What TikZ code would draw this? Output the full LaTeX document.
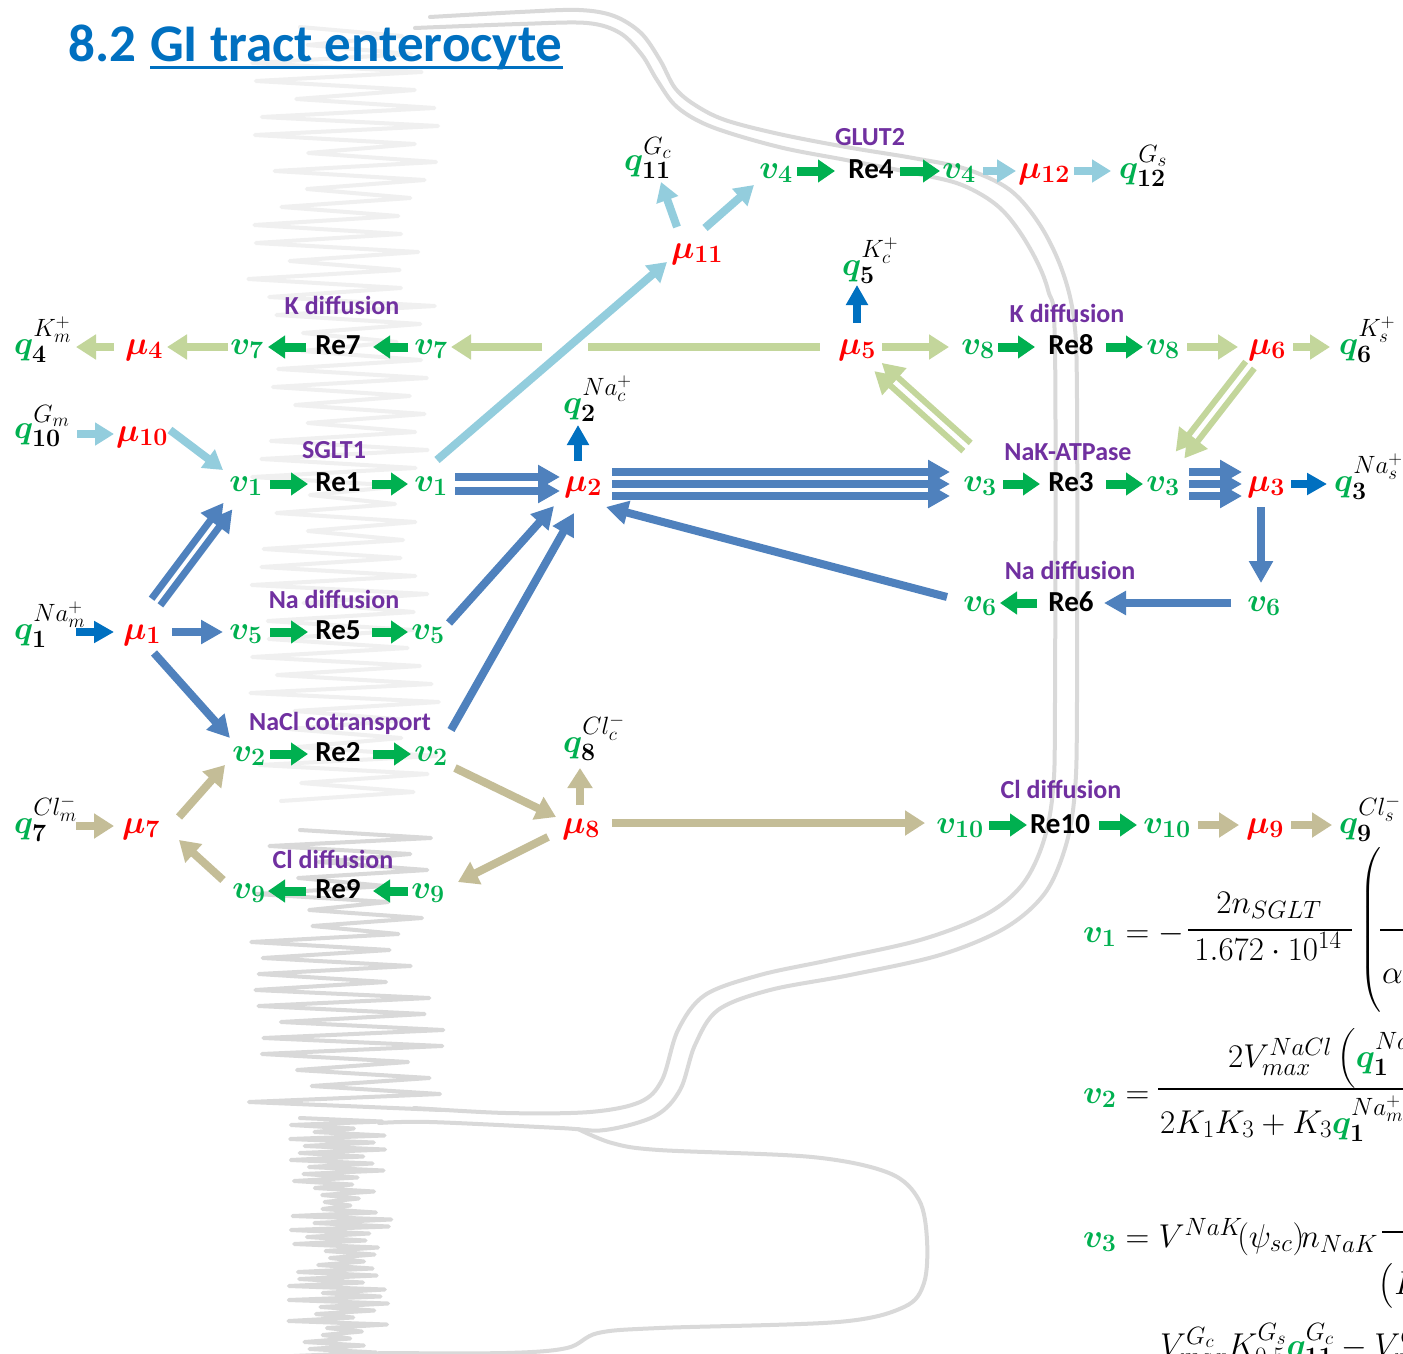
\RequirePackage{fix-cm}
\documentclass[tikz,border=0pt]{standalone}
\usepackage{amsmath}
\usepackage{bm}
\usepackage{fontspec}
\newfontfamily\calib{Carlito}
\usetikzlibrary{arrows.meta}
\DeclareMathSizes{33}{33}{25}{19}
\definecolor{cgreen}{HTML}{00B050}
\definecolor{cred}{HTML}{FF0000}
\definecolor{cpurple}{HTML}{7030A0}
\definecolor{ctitle}{HTML}{0070C0}
\definecolor{clb}{HTML}{93CDDD}
\definecolor{clg}{HTML}{C3D69B}
\definecolor{ctan}{HTML}{C4BD97}
\definecolor{csteel}{HTML}{4F81BD}
\definecolor{cdblue}{HTML}{0070C0}
\definecolor{cmem}{HTML}{D9D9D9}
\definecolor{clight}{HTML}{F0F0F0}
\newcommand{\Qn}[2]{{\color{cgreen}\bm{q}_{\bm{#1}}^{\color{black}#2}}}
\newcommand{\Vn}[1]{{\color{cgreen}\bm{v}_{\bm{#1}}}}
\newcommand{\Mn}[1]{{\color{cred}\bm{\mu}_{\bm{#1}}}}
\begin{document}
\begin{tikzpicture}[x=1pt,y=-1pt,
  mth/.style={font=\fontsize{33}{40}\selectfont, inner sep=1pt, anchor=base},
  re/.style={font=\calib\bfseries\fontsize{29}{34}\selectfont, inner sep=1pt, anchor=base},
  lab/.style={font=\calib\bfseries\fontsize{26}{30}\selectfont, text=cpurple, inner sep=1pt, anchor=base},
  eq/.style={font=\fontsize{33}{40}\selectfont, inner sep=0pt, anchor=base west},
  mem/.style={draw=cmem, line width=4pt, line cap=round, line join=round},
  ga/.style={draw=cgreen, line width=9pt, -{Triangle[length=17pt,width=22pt]}},
  lba/.style={draw=clb, line width=8pt, -{Triangle[length=19pt,width=22pt]}},
  lga/.style={draw=clg, line width=8pt, -{Triangle[length=20pt,width=24pt]}},
  lga2/.style={draw=clg, line width=6pt, -{Triangle[length=22pt,width=24pt]}},
  tna/.style={draw=ctan, line width=8pt, -{Triangle[length=20pt,width=24pt]}},
  sba/.style={draw=csteel, line width=8pt, -{Triangle[length=22pt,width=23pt]}},
  sba2/.style={draw=csteel, line width=7pt, -{Triangle[length=22pt,width=23pt]}},
  dba/.style={draw=cdblue, line width=8pt, -{Triangle[length=20pt,width=21pt]}}]
\useasboundingbox (0,0) rectangle (1403,1354);
\clip (0,0) rectangle (1403,1354);
\fill[white] (0,0) rectangle (1403,1354);

% ---------- microvilli ----------
\pgfmathsetseed{7}
\draw[draw=clight, line width=4pt, line join=round, line cap=round] (300,27)
  \foreach \k in {1,...,86} { -- ({ifthenelse(isodd(\k), 395+45*rnd, 245+65*rnd)}, {27+9*\k}) };
\draw[draw=cmem, line width=4pt, line join=round, line cap=round] (300,830)
  \foreach \k in {1,...,35} { -- ({ifthenelse(isodd(\k), 379+70*rnd, 246+76*rnd)}, {830+8*\k}) };
\draw[draw=cmem, line width=4pt, line join=round, line cap=round] (300,1118)
  \foreach \k in {1,...,68} { -- ({ifthenelse(isodd(\k), 350+44*rnd, 288+42*rnd)}, {1118+3.5*\k}) };

% ---------- membranes ----------
\draw[mem] plot[smooth, tension=0.55] coordinates {(430,17) (520,12) (579,10) (614,16) (641,33) (660,60) (675,88) (695,105) (725,120) (779,134) (846,147) (913,158) (966,169) (1010,190) (1040,225) (1062,270) (1074,320) (1077,400) (1077,700) (1075,790) (1066,845) (1045,893) (1005,928) (940,955) (850,975) (770,990) (718,1010) (695,1045) (680,1090) (655,1116) (605,1130) (560,1128) (430,1122) (379,1123)};
\draw[mem] plot[smooth, tension=0.55] coordinates {(415,28) (520,24) (587,23) (620,33) (642,55) (657,80) (677,107) (712,127) (779,147) (846,160) (913,173) (962,185) (1000,208) (1028,245) (1048,290) (1055,350) (1055,700) (1053,790) (1043,843) (1022,885) (985,915) (920,940) (830,960) (760,975) (705,995) (678,1030) (662,1080) (640,1102) (590,1112) (506,1113) (414,1108)};
\draw[mem] plot[smooth, tension=0.55] coordinates {(578,1129) (612,1143) (659,1150) (812,1157) (889,1173) (919,1200) (927,1240) (924,1283) (904,1307) (838,1322) (659,1328) (598,1333) (567,1348) (506,1353) (379,1353)};

% ---------- title ----------
\node[anchor=base west, font=\calib\bfseries\fontsize{53}{60}\selectfont, text=ctitle, inner sep=0pt] (t1) at (68,62) {8.2};
\node[anchor=base west, font=\calib\bfseries\fontsize{53}{60}\selectfont, text=ctitle, inner sep=0pt] (t2) at (150,62) {GI tract enterocyte};
\draw[ctitle, line width=3pt] ([yshift=-6pt]t2.base west) -- ([yshift=-6pt]t2.base east);

% ---------- nodes ----------
% GLUT2 row
\node[mth, anchor=base west] (q11) at (623,170) {$\Qn{11}{G_c}$};
\node[mth] (v4l) at (776,178) {$\Vn{4}$};
\node[re] (re4) at (871,178) {Re4};
\node[lab] (l4) at (870,145) {GLUT2};
\node[mth] (v4r) at (959,178) {$\Vn{4}$};
\node[mth] (mu12) at (1044,178) {$\Mn{12}$};
\node[mth, anchor=base west] (q12) at (1118,178) {$\Qn{12}{G_s}$};
\node[mth] (mu11) at (697,258) {$\Mn{11}$};
% K row
\node[mth, anchor=base west] (q4) at (13,354) {$\Qn{4}{K_m^+}$};
\node[mth] (mu4) at (144,354) {$\Mn{4}$};
\node[mth] (v7l) at (247,354) {$\Vn{7}$};
\node[re] (re7) at (338,354) {Re7};
\node[lab] (l7) at (342,314) {K diffusion};
\node[mth] (v7r) at (431,354) {$\Vn{7}$};
\node[mth] (mu5) at (857,354) {$\Mn{5}$};
\node[mth, anchor=base west] (q5) at (841,275) {$\Qn{5}{K_c^+}$};
\node[mth] (v8l) at (978,354) {$\Vn{8}$};
\node[re] (re8) at (1071,354) {Re8};
\node[lab] (l8) at (1067,322) {K diffusion};
\node[mth] (v8r) at (1163,354) {$\Vn{8}$};
\node[mth] (mu6) at (1267,354) {$\Mn{6}$};
\node[mth, anchor=base west] (q6) at (1338,354) {$\Qn{6}{K_s^+}$};
% q10 row
\node[mth, anchor=base west] (q10) at (13,438) {$\Qn{10}{G_m}$};
\node[mth] (mu10) at (142,441) {$\Mn{10}$};
% SGLT1 row
\node[lab] (l1) at (334,458) {SGLT1};
\node[mth] (v1l) at (246,491) {$\Vn{1}$};
\node[re] (re1) at (338,491) {Re1};
\node[mth] (v1r) at (431,491) {$\Vn{1}$};
\node[mth] (mu2) at (583,491) {$\Mn{2}$};
\node[mth, anchor=base west] (q2) at (562,413) {$\Qn{2}{Na_c^+}$};
\node[mth] (v3l) at (980,491) {$\Vn{3}$};
\node[re] (re3) at (1071,491) {Re3};
\node[lab] (l3) at (1068,460) {NaK-ATPase};
\node[mth] (v3r) at (1163,491) {$\Vn{3}$};
\node[mth] (mu3) at (1266,491) {$\Mn{3}$};
\node[mth, anchor=base west] (q3) at (1333,491) {$\Qn{3}{Na_s^+}$};
% Re6 row
\node[lab] (l6) at (1070,579) {Na diffusion};
\node[mth] (v6l) at (980,611) {$\Vn{6}$};
\node[re] (re6) at (1071,611) {Re6};
\node[mth] (v6r) at (1264,611) {$\Vn{6}$};
% Re5 row
\node[mth, anchor=base west] (q1) at (13,639) {$\Qn{1}{Na_m^+}$};
\node[mth] (mu1) at (142,639) {$\Mn{1}$};
\node[mth] (v5l) at (246,639) {$\Vn{5}$};
\node[re] (re5) at (338,639) {Re5};
\node[lab] (l5) at (334,608) {Na diffusion};
\node[mth] (v5r) at (428,639) {$\Vn{5}$};
% Re2 row
\node[lab] (l2) at (340,730) {NaCl cotransport};
\node[mth] (v2l) at (249,761) {$\Vn{2}$};
\node[re] (re2) at (338,761) {Re2};
\node[mth] (v2r) at (431,761) {$\Vn{2}$};
\node[mth, anchor=base west] (q8) at (562,752) {$\Qn{8}{Cl_c^-}$};
% row 833
\node[mth, anchor=base west] (q7) at (13,833) {$\Qn{7}{Cl_m^-}$};
\node[mth] (mu7) at (141,833) {$\Mn{7}$};
\node[mth] (mu8) at (581,833) {$\Mn{8}$};
\node[mth] (v10l) at (960,833) {$\Vn{10}$};
\node[re] (re10) at (1060,833) {Re10};
\node[lab] (l10) at (1061,798) {Cl diffusion};
\node[mth] (v10r) at (1167,833) {$\Vn{10}$};
\node[mth] (mu9) at (1265,833) {$\Mn{9}$};
\node[mth, anchor=base west] (q9) at (1338,833) {$\Qn{9}{Cl_s^-}$};
% row 898
\node[lab] (l9) at (333,868) {Cl diffusion};
\node[mth] (v9l) at (249,898) {$\Vn{9}$};
\node[re] (re9) at (338,898) {Re9};
\node[mth] (v9r) at (428,898) {$\Vn{9}$};

% ---------- connectors ----------
% GLUT2 row
\draw[ga] ([shift={(21,-7)}]v4l.base) -- ([shift={(-36,-7)}]re4.base);
\draw[ga] ([shift={(29,-7)}]re4.base) -- ([shift={(-19,-7)}]v4r.base);
\draw[lba] ([shift={(24,-7)}]v4r.base) -- ([shift={(-28,-7)}]mu12.base);
\draw[lba] ([shift={(30,-7)}]mu12.base) -- ([shift={(-7,-7)}]q12.base west);
\draw[lba] ([shift={(-20,-31)}]mu11.base) -- ([shift={(38,12)}]q11.base west);
\draw[lba] ([shift={(8,-30)}]mu11.base) -- ([shift={(-22,7)}]v4l.base);
% K row
\draw[lga] ([shift={(-30,-7)}]mu4.base) -- ([shift={(63,-7)}]q4.base west);
\draw[lga] ([shift={(-19,-7)}]v7l.base) -- ([shift={(23,-7)}]mu4.base);
\draw[ga] ([shift={(-32,-7)}]re7.base) -- ([shift={(21,-7)}]v7l.base);
\draw[ga] ([shift={(-23,-7)}]v7r.base) -- ([shift={(35,-7)}]re7.base);
\coordinate (gapR) at (588,347);
\coordinate (gapL) at (542,347);
\draw[lga,-] ([shift={(-37,-7)}]mu5.base) -- (gapR);
\draw[lga] (gapL) -- ([shift={(20,-7)}]v7r.base);
\draw[dba] ([shift={(0,-31)}]mu5.base) -- ([shift={(16,10)}]q5.base west);
\draw[lga] ([shift={(25,-7)}]mu5.base) -- ([shift={(-29,-7)}]v8l.base);
\draw[ga] ([shift={(20,-7)}]v8l.base) -- ([shift={(-36,-7)}]re8.base);
\draw[ga] ([shift={(35,-7)}]re8.base) -- ([shift={(-20,-7)}]v8r.base);
\draw[lga] ([shift={(24,-7)}]v8r.base) -- ([shift={(-29,-7)}]mu6.base);
\draw[lga] ([shift={(26,-7)}]mu6.base) -- ([shift={(-8,-7)}]q6.base west);
\draw[lga2] ([shift={(-9.3,-48.1)}]v3l.base) -- ([shift={(24.7,8.9)}]mu5.base);
\draw[lga2] ([shift={(-16.7,-39.9)}]v3l.base) -- ([shift={(17.3,17.1)}]mu5.base);
\draw[lga2] ([shift={(-12.7,14.4)}]mu6.base) -- ([shift={(21.3,-32.6)}]v3r.base);
\draw[lga2] ([shift={(-21.3,7.6)}]mu6.base) -- ([shift={(12.7,-39.4)}]v3r.base);
% q10 row
\draw[lba] ([shift={(64,-4)}]q10.base west) -- ([shift={(-28,-7)}]mu10.base);
\draw[lba] ([shift={(28,-11)}]mu10.base) -- ([shift={(-23,-21)}]v1l.base);
\draw[lba] ([shift={(6,-31)}]v1r.base) -- ([shift={(-30,4)}]mu11.base);
% SGLT1 row
\draw[ga] ([shift={(24,-7)}]v1l.base) -- ([shift={(-30,-7)}]re1.base);
\draw[ga] ([shift={(34,-7)}]re1.base) -- ([shift={(-23,-7)}]v1r.base);
\draw[sba] ([shift={(24,-14)}]v1r.base) -- ([shift={(-23,-14)}]mu2.base);
\draw[sba] ([shift={(24,0)}]v1r.base) -- ([shift={(-23,0)}]mu2.base);
\draw[dba] ([shift={(-5,-30)}]mu2.base) -- ([shift={(16,12)}]q2.base west);
\foreach \d in {-19,-7,5} \draw[sba] ([shift={(29,\d)}]mu2.base) -- ([shift={(-30,\d)}]v3l.base);
\draw[ga] ([shift={(23,-7)}]v3l.base) -- ([shift={(-31,-7)}]re3.base);
\draw[ga] ([shift={(35,-7)}]re3.base) -- ([shift={(-20,-7)}]v3r.base);
\foreach \d in {-19,-7,5} \draw[sba] ([shift={(26,\d)}]v3r.base) -- ([shift={(-24,\d)}]mu3.base);
\draw[dba] ([shift={(25,-7)}]mu3.base) -- ([shift={(-6,-7)}]q3.base west);
\draw[sba] ([shift={(-5,16)}]mu3.base) -- ([shift={(-3,-28)}]v6r.base);
% Re6 row
\draw[sba] ([shift={(-33,-8)}]v6r.base) -- ([shift={(33,-8)}]re6.base);
\draw[ga] ([shift={(-34,-8)}]re6.base) -- ([shift={(20,-8)}]v6l.base);
\draw[sba] ([shift={(-33,-14)}]v6l.base) -- ([shift={(23,16)}]mu2.base);
% Re5 row
\draw[dba] ([shift={(63,-7)}]q1.base west) -- ([shift={(-28,-7)}]mu1.base);
\draw[sba] ([shift={(30,-7)}]mu1.base) -- ([shift={(-23,-7)}]v5l.base);
\draw[ga] ([shift={(24,-7)}]v5l.base) -- ([shift={(-30,-7)}]re5.base);
\draw[ga] ([shift={(34,-7)}]re5.base) -- ([shift={(-20,-7)}]v5r.base);
\draw[sba] ([shift={(21,-16)}]v5r.base) -- ([shift={(-29,15)}]mu2.base);
\draw[sba2] ([shift={(18.4,-33.7)}]mu1.base) -- ([shift={(-13.6,18.3)}]v1l.base);
\draw[sba2] ([shift={(9.6,-40.3)}]mu1.base) -- ([shift={(-22.4,11.7)}]v1l.base);
\draw[sba] ([shift={(12,14)}]mu1.base) -- ([shift={(-19,-23)}]v2l.base);
% Re2 row
\draw[ga] ([shift={(21,-7)}]v2l.base) -- ([shift={(-30,-7)}]re2.base);
\draw[ga] ([shift={(35,-7)}]re2.base) -- ([shift={(-20,-7)}]v2r.base);
\draw[sba] ([shift={(20,-31)}]v2r.base) -- ([shift={(-9,22)}]mu2.base);
\draw[tna] ([shift={(24,7)}]v2r.base) -- ([shift={(-25,-16)}]mu8.base);
% row 833
\draw[tna] ([shift={(63,-7)}]q7.base west) -- ([shift={(-27,-7)}]mu7.base);
\draw[tna] ([shift={(38,-16)}]mu7.base) -- ([shift={(-24,4)}]v2l.base);
\draw[tna] ([shift={(-1,-28)}]mu8.base) -- ([shift={(18,16)}]q8.base west);
\draw[tna] ([shift={(31,-10)}]mu8.base) -- ([shift={(-35,-10)}]v10l.base);
\draw[ga] ([shift={(29,-8)}]v10l.base) -- ([shift={(-33,-8)}]re10.base);
\draw[ga] ([shift={(39,-8)}]re10.base) -- ([shift={(-30,-8)}]v10r.base);
\draw[tna] ([shift={(31,-8)}]v10r.base) -- ([shift={(-26,-8)}]mu9.base);
\draw[tna] ([shift={(26,-8)}]mu9.base) -- ([shift={(-6,-8)}]q9.base west);
\draw[tna] ([shift={(-33,4)}]mu8.base) -- ([shift={(30,-16)}]v9r.base);
% row 898
\draw[ga] ([shift={(-32,-7)}]re9.base) -- ([shift={(19,-7)}]v9l.base);
\draw[ga] ([shift={(-20,-7)}]v9r.base) -- ([shift={(35,-7)}]re9.base);
\draw[tna] ([shift={(-26,-18)}]v9l.base) -- ([shift={(38,7)}]mu7.base);

% ---------- equations ----------
\node[eq] (e1l) at (1083,942) {$\Vn{1} = -$};
\node[eq, anchor=base] (e1n) at (1269,913) {$2n_{SGLT}$};
\draw[line width=1.6pt] (1188,930) -- (1352,930);
\node[eq, anchor=base] (e1d) at (1268,960) {$1.672\cdot 10^{14}$};
\node[eq, anchor=base] (e1p) at (1371,938) {$\left(\vrule height 92pt depth 76pt width 0pt\right.$};
\draw[line width=1.6pt] (1380,930) -- (1410,930);
\node[eq] (e1a) at (1382,983) {$\alpha$};

\node[eq] (e2l) at (1083,1103) {$\Vn{2} =$};
\draw[line width=1.6pt] (1158,1089) -- (1410,1089);
\node[eq] (e2n) at (1228,1067) {$2V_{max}^{NaCl}\left(\Qn{1}{Na_m^+}\right.$};
\node[eq] (e2d) at (1160,1133) {$2K_1K_3+K_3\Qn{1}{Na_m^+}+$};

\node[eq] (e3l) at (1083,1247) {$\Vn{3} = V^{NaK}\!(\psi_{sc})\mkern-2mu n_{NaK}$};
\draw[line width=1.6pt] (1382,1232) -- (1410,1232);
\node[eq] (e3d) at (1378,1294) {$\left(\vrule height 28pt depth 12pt width 0pt\right.\!K$};

\node[eq] (e4n) at (1160,1356) {$V_{max}^{G_c}K_{0.5}^{G_s}\Qn{11}{G_c}-V_{max}^{G_s}$};
\end{tikzpicture}
\end{document}
